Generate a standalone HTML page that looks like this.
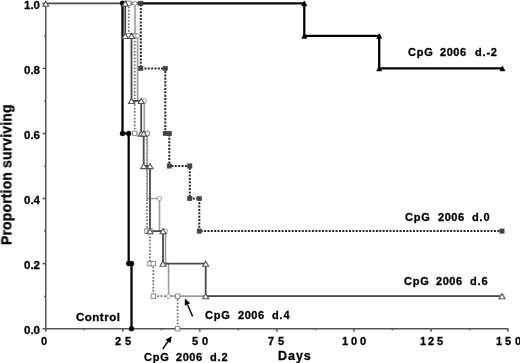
<!DOCTYPE html><html><head><meta charset="utf-8"><style>
html,body{margin:0;padding:0;background:#fff;}
body{width:520px;height:363px;overflow:hidden;position:relative;font-family:"Liberation Sans",sans-serif;font-weight:bold;color:#000;}
svg{position:absolute;left:0;top:0;}
#wrap{position:absolute;left:0;top:0;width:520px;height:363px;filter:blur(0.35px);}
.t{position:absolute;white-space:pre;line-height:1;will-change:transform;-webkit-text-stroke:0.3px #000;}
</style></head><body>
<div id="wrap">
<svg width="520" height="363" viewBox="0 0 520 363">
<g stroke="#555555" stroke-width="1.5" fill="none">
<line x1="45.75" y1="2.8" x2="45.75" y2="329.3"/>
<line x1="45.15" y1="328.7" x2="508.2" y2="328.7"/>
<line x1="42.55" y1="328.7" x2="45.75" y2="328.7"/>
<line x1="44.15" y1="296.16" x2="45.75" y2="296.16"/>
<line x1="42.55" y1="263.62" x2="45.75" y2="263.62"/>
<line x1="44.15" y1="231.08" x2="45.75" y2="231.08"/>
<line x1="42.55" y1="198.54" x2="45.75" y2="198.54"/>
<line x1="44.15" y1="166" x2="45.75" y2="166"/>
<line x1="42.55" y1="133.46" x2="45.75" y2="133.46"/>
<line x1="44.15" y1="100.92" x2="45.75" y2="100.92"/>
<line x1="42.55" y1="68.38" x2="45.75" y2="68.38"/>
<line x1="44.15" y1="35.84" x2="45.75" y2="35.84"/>
<line x1="42.55" y1="3.3" x2="45.75" y2="3.3"/>
<line x1="45.75" y1="328.7" x2="45.75" y2="331.7"/>
<line x1="84.27" y1="328.7" x2="84.27" y2="330.2"/>
<line x1="122.79" y1="328.7" x2="122.79" y2="331.7"/>
<line x1="161.31" y1="328.7" x2="161.31" y2="330.2"/>
<line x1="199.84" y1="328.7" x2="199.84" y2="331.7"/>
<line x1="238.36" y1="328.7" x2="238.36" y2="330.2"/>
<line x1="276.88" y1="328.7" x2="276.88" y2="331.7"/>
<line x1="315.4" y1="328.7" x2="315.4" y2="330.2"/>
<line x1="353.92" y1="328.7" x2="353.92" y2="331.7"/>
<line x1="392.44" y1="328.7" x2="392.44" y2="330.2"/>
<line x1="430.96" y1="328.7" x2="430.96" y2="331.7"/>
<line x1="469.48" y1="328.7" x2="469.48" y2="330.2"/>
<line x1="508" y1="328.7" x2="508" y2="331.7"/>
</g>
<polyline points="125.2,3.3 304.3,3.3 304.3,35.84 379.2,35.84 379.2,68.38 502.5,68.38" fill="none" stroke="#050505" stroke-width="2.3" stroke-linejoin="miter" />
<polyline points="125.2,3.3 140.8,3.3 140.8,68.38 165.3,68.38 165.3,133.46 169.3,133.46 169.3,166 189.8,166 189.8,198.54 199.3,198.54 199.3,231.08 502,231.08" fill="none" stroke="#262626" stroke-width="2.0" stroke-dasharray="2 1.37" stroke-linejoin="miter" />
<polyline points="122.5,3.3 122.5,133.46 128.7,133.46 128.7,263.62 131.5,263.62 131.5,328.7" fill="none" stroke="#050505" stroke-width="2.3" stroke-linejoin="miter" />
<polyline points="125.2,3.3 128.7,3.3 128.7,35.84 134.7,35.84 134.7,133.46 147,133.46 147,231.08 150,231.08 150,263.62 153.3,263.62 153.3,296.16 177.6,296.16 177.6,328.7" fill="none" stroke="#6e6e6e" stroke-width="1.7" stroke-dasharray="1.7 1.65" stroke-linejoin="miter" />
<polyline points="125.2,3.3 135,3.3 135,35.84 137.6,35.84 137.6,100.92 144.3,100.92 144.3,133.46 147.3,133.46 147.3,198.54 159.5,198.54 159.5,231.08 165.5,231.08 165.5,263.62 168.6,263.62 168.6,296.16 502,296.16" fill="none" stroke="#9c9c9c" stroke-width="1.6" stroke-linejoin="miter" />
<polyline points="45.75,3.3 125.2,3.3 125.2,35.84 131.5,35.84 131.5,100.92 141.2,100.92 141.2,133.46 143.7,133.46 143.7,166 150,166 150,231.08 163,231.08 163,263.62 205.7,263.62 205.7,296.16 502,296.16" fill="none" stroke="#4a4a4a" stroke-width="1.8" stroke-linejoin="miter" />
<polygon points="304.3,0.85 307,5.95 301.6,5.95" fill="#000" stroke="#000" stroke-width="0.4"/>
<polygon points="304.3,33.39 307,38.49 301.6,38.49" fill="#000" stroke="#000" stroke-width="0.4"/>
<polygon points="379.2,33.39 381.9,38.49 376.5,38.49" fill="#000" stroke="#000" stroke-width="0.4"/>
<polygon points="379.2,65.93 381.9,71.03 376.5,71.03" fill="#000" stroke="#000" stroke-width="0.4"/>
<polygon points="502.5,65.93 505.2,71.03 499.8,71.03" fill="#000" stroke="#000" stroke-width="0.4"/>
<rect x="138.65" y="1.15" width="4.3" height="4.3" fill="#444" stroke="#444" stroke-width="0.6"/>
<rect x="138.65" y="66.23" width="4.3" height="4.3" fill="#444" stroke="#444" stroke-width="0.6"/>
<rect x="163.15" y="66.23" width="4.3" height="4.3" fill="#444" stroke="#444" stroke-width="0.6"/>
<rect x="163.15" y="131.31" width="4.3" height="4.3" fill="#444" stroke="#444" stroke-width="0.6"/>
<rect x="167.15" y="131.31" width="4.3" height="4.3" fill="#444" stroke="#444" stroke-width="0.6"/>
<rect x="167.15" y="163.85" width="4.3" height="4.3" fill="#444" stroke="#444" stroke-width="0.6"/>
<rect x="187.65" y="163.85" width="4.3" height="4.3" fill="#444" stroke="#444" stroke-width="0.6"/>
<rect x="187.65" y="196.39" width="4.3" height="4.3" fill="#444" stroke="#444" stroke-width="0.6"/>
<rect x="197.15" y="196.39" width="4.3" height="4.3" fill="#444" stroke="#444" stroke-width="0.6"/>
<rect x="197.15" y="228.93" width="4.3" height="4.3" fill="#444" stroke="#444" stroke-width="0.6"/>
<rect x="499.85" y="228.93" width="4.3" height="4.3" fill="#444" stroke="#444" stroke-width="0.6"/>
<circle cx="122.5" cy="3.3" r="2.5" fill="#000" stroke="#000" stroke-width="0.4"/>
<circle cx="122.5" cy="133.46" r="2.5" fill="#000" stroke="#000" stroke-width="0.4"/>
<circle cx="128.7" cy="133.46" r="2.5" fill="#000" stroke="#000" stroke-width="0.4"/>
<circle cx="128.7" cy="263.62" r="2.5" fill="#000" stroke="#000" stroke-width="0.4"/>
<circle cx="131.5" cy="263.62" r="2.5" fill="#000" stroke="#000" stroke-width="0.4"/>
<circle cx="131.5" cy="328.7" r="2.5" fill="#000" stroke="#000" stroke-width="0.4"/>
<rect x="126.5" y="1.1" width="4.4" height="4.4" fill="#fff" stroke="#8a8a8a" stroke-width="1.0"/>
<rect x="126.5" y="33.64" width="4.4" height="4.4" fill="#fff" stroke="#8a8a8a" stroke-width="1.0"/>
<rect x="132.5" y="33.64" width="4.4" height="4.4" fill="#fff" stroke="#8a8a8a" stroke-width="1.0"/>
<rect x="132.5" y="131.26" width="4.4" height="4.4" fill="#fff" stroke="#8a8a8a" stroke-width="1.0"/>
<rect x="144.8" y="131.26" width="4.4" height="4.4" fill="#fff" stroke="#8a8a8a" stroke-width="1.0"/>
<rect x="144.8" y="228.88" width="4.4" height="4.4" fill="#fff" stroke="#8a8a8a" stroke-width="1.0"/>
<rect x="147.8" y="228.88" width="4.4" height="4.4" fill="#fff" stroke="#8a8a8a" stroke-width="1.0"/>
<rect x="147.8" y="261.42" width="4.4" height="4.4" fill="#fff" stroke="#8a8a8a" stroke-width="1.0"/>
<rect x="151.1" y="261.42" width="4.4" height="4.4" fill="#fff" stroke="#8a8a8a" stroke-width="1.0"/>
<rect x="151.1" y="293.96" width="4.4" height="4.4" fill="#fff" stroke="#8a8a8a" stroke-width="1.0"/>
<rect x="175.4" y="293.96" width="4.4" height="4.4" fill="#fff" stroke="#8a8a8a" stroke-width="1.0"/>
<rect x="175.4" y="326.5" width="4.4" height="4.4" fill="#fff" stroke="#8a8a8a" stroke-width="1.0"/>
<circle cx="135" cy="3.3" r="2.1" fill="#fff" stroke="#9a9a9a" stroke-width="1.0"/>
<circle cx="135" cy="35.84" r="2.1" fill="#fff" stroke="#9a9a9a" stroke-width="1.0"/>
<circle cx="137.6" cy="35.84" r="2.1" fill="#fff" stroke="#9a9a9a" stroke-width="1.0"/>
<circle cx="144.3" cy="100.92" r="2.1" fill="#fff" stroke="#9a9a9a" stroke-width="1.0"/>
<circle cx="144.3" cy="133.46" r="2.1" fill="#fff" stroke="#9a9a9a" stroke-width="1.0"/>
<circle cx="147.3" cy="133.46" r="2.1" fill="#fff" stroke="#9a9a9a" stroke-width="1.0"/>
<circle cx="159.5" cy="198.54" r="2.1" fill="#fff" stroke="#9a9a9a" stroke-width="1.0"/>
<circle cx="165.5" cy="231.08" r="2.1" fill="#fff" stroke="#9a9a9a" stroke-width="1.0"/>
<circle cx="168.6" cy="296.16" r="2.1" fill="#fff" stroke="#9a9a9a" stroke-width="1.0"/>
<circle cx="502" cy="296.16" r="2.1" fill="#fff" stroke="#9a9a9a" stroke-width="1.0"/>
<polygon points="125.2,0.85 128.2,5.95 122.2,5.95" fill="#fff" stroke="#555" stroke-width="1.1"/>
<polygon points="125.2,33.39 128.2,38.49 122.2,38.49" fill="#fff" stroke="#555" stroke-width="1.1"/>
<polygon points="131.5,33.39 134.5,38.49 128.5,38.49" fill="#fff" stroke="#555" stroke-width="1.1"/>
<polygon points="131.5,98.47 134.5,103.57 128.5,103.57" fill="#fff" stroke="#555" stroke-width="1.1"/>
<polygon points="141.2,98.47 144.2,103.57 138.2,103.57" fill="#fff" stroke="#555" stroke-width="1.1"/>
<polygon points="141.2,131.01 144.2,136.11 138.2,136.11" fill="#fff" stroke="#555" stroke-width="1.1"/>
<polygon points="143.7,131.01 146.7,136.11 140.7,136.11" fill="#fff" stroke="#555" stroke-width="1.1"/>
<polygon points="143.7,163.55 146.7,168.65 140.7,168.65" fill="#fff" stroke="#555" stroke-width="1.1"/>
<polygon points="150,163.55 153,168.65 147,168.65" fill="#fff" stroke="#555" stroke-width="1.1"/>
<polygon points="150,228.63 153,233.73 147,233.73" fill="#fff" stroke="#555" stroke-width="1.1"/>
<polygon points="163,228.63 166,233.73 160,233.73" fill="#fff" stroke="#555" stroke-width="1.1"/>
<polygon points="163,261.17 166,266.27 160,266.27" fill="#fff" stroke="#555" stroke-width="1.1"/>
<polygon points="205.7,261.17 208.7,266.27 202.7,266.27" fill="#fff" stroke="#555" stroke-width="1.1"/>
<polygon points="205.7,293.71 208.7,298.81 202.7,298.81" fill="#fff" stroke="#555" stroke-width="1.1"/>
<polygon points="502,293.71 505,298.81 499,298.81" fill="#fff" stroke="#555" stroke-width="1.1"/>
<polygon points="45.75,1.15 48.65,6.25 42.85,6.25" fill="#fff" stroke="#555" stroke-width="1.1"/>
<line x1="192.6" y1="316.4" x2="187.48" y2="304.57" stroke="#000" stroke-width="1.4"/>
<polygon points="184.9,298.6 190.23,303.37 184.73,305.76" fill="#000"/>
<line x1="162.7" y1="349" x2="167.96" y2="341.52" stroke="#000" stroke-width="1.4"/>
<polygon points="171.7,336.2 170.42,343.24 165.51,339.79" fill="#000"/>
</svg>
<div class="t" style="left:23.9px;top:0.4px;font-size:11.5px;letter-spacing:0px;">1.0</div>
<div class="t" style="left:23.9px;top:64.78px;font-size:11.5px;letter-spacing:0px;">0.8</div>
<div class="t" style="left:23.9px;top:129.86px;font-size:11.5px;letter-spacing:0px;">0.6</div>
<div class="t" style="left:23.9px;top:194.94px;font-size:11.5px;letter-spacing:0px;">0.4</div>
<div class="t" style="left:23.9px;top:260.02px;font-size:11.5px;letter-spacing:0px;">0.2</div>
<div class="t" style="left:23.9px;top:325.1px;font-size:11.5px;letter-spacing:0px;">0.0</div>
<div class="t" style="left:41.4px;top:335.8px;font-size:11px;letter-spacing:0px;">0</div>
<div class="t" style="left:114.75px;top:335.8px;font-size:11px;letter-spacing:0px;">2</div>
<div class="t" style="left:125px;top:335.8px;font-size:11px;letter-spacing:0px;">5</div>
<div class="t" style="left:191.75px;top:335.8px;font-size:11px;letter-spacing:0px;">5</div>
<div class="t" style="left:202px;top:335.8px;font-size:11px;letter-spacing:0px;">0</div>
<div class="t" style="left:268.2px;top:335.8px;font-size:11px;letter-spacing:0px;">7</div>
<div class="t" style="left:278.3px;top:335.8px;font-size:11px;letter-spacing:0px;">5</div>
<div class="t" style="left:342px;top:335.8px;font-size:11px;letter-spacing:0px;">1</div>
<div class="t" style="left:351.2px;top:335.8px;font-size:11px;letter-spacing:0px;">0</div>
<div class="t" style="left:360.2px;top:335.8px;font-size:11px;letter-spacing:0px;">0</div>
<div class="t" style="left:419.7px;top:335.8px;font-size:11px;letter-spacing:0px;">1</div>
<div class="t" style="left:428px;top:335.8px;font-size:11px;letter-spacing:0px;">2</div>
<div class="t" style="left:436.9px;top:335.8px;font-size:11px;letter-spacing:0px;">5</div>
<div class="t" style="left:496px;top:335.8px;font-size:11px;letter-spacing:0px;">1</div>
<div class="t" style="left:504.7px;top:335.8px;font-size:11px;letter-spacing:0px;">5</div>
<div class="t" style="left:514.5px;top:335.8px;font-size:11px;letter-spacing:0px;">0</div>
<div class="t" style="left:407.7px;top:46.7px;font-size:11px;letter-spacing:0.8px;">CpG</div>
<div class="t" style="left:440.4px;top:46.7px;font-size:11px;letter-spacing:0.55px;">2006</div>
<div class="t" style="left:474.6px;top:46.7px;font-size:11px;letter-spacing:0.8px;">d.-2</div>
<div class="t" style="left:405.2px;top:211.7px;font-size:11px;letter-spacing:0.8px;">CpG</div>
<div class="t" style="left:438px;top:211.7px;font-size:11px;letter-spacing:0.55px;">2006</div>
<div class="t" style="left:471.9px;top:211.7px;font-size:11px;letter-spacing:0.8px;">d.0</div>
<div class="t" style="left:403.8px;top:275.7px;font-size:11px;letter-spacing:0.8px;">CpG</div>
<div class="t" style="left:436.1px;top:275.7px;font-size:11px;letter-spacing:0.55px;">2006</div>
<div class="t" style="left:470.1px;top:275.7px;font-size:11px;letter-spacing:0.8px;">d.6</div>
<div class="t" style="left:205.4px;top:310.1px;font-size:11px;letter-spacing:0.8px;">CpG</div>
<div class="t" style="left:237.5px;top:310.1px;font-size:11px;letter-spacing:0.55px;">2006</div>
<div class="t" style="left:271.5px;top:310.1px;font-size:11px;letter-spacing:0.8px;">d.4</div>
<div class="t" style="left:144.2px;top:351.7px;font-size:11px;letter-spacing:0.8px;">CpG</div>
<div class="t" style="left:176.1px;top:351.7px;font-size:11px;letter-spacing:0.55px;">2006</div>
<div class="t" style="left:210.1px;top:351.7px;font-size:11px;letter-spacing:0.8px;">d.2</div>
<div class="t" style="left:75.7px;top:311.9px;font-size:11.5px;letter-spacing:0.5px;">Control</div>
<div class="t" style="left:278px;top:349.5px;font-size:12.5px;letter-spacing:0.95px;">Days</div>
<div class="t" style="left:0px;top:0px;font-size:14px;letter-spacing:0.15px;transform-origin:0 0;transform:translate(-0.6px,245px) rotate(-90deg);">Proportion surviving</div>
</div>
</body></html>
